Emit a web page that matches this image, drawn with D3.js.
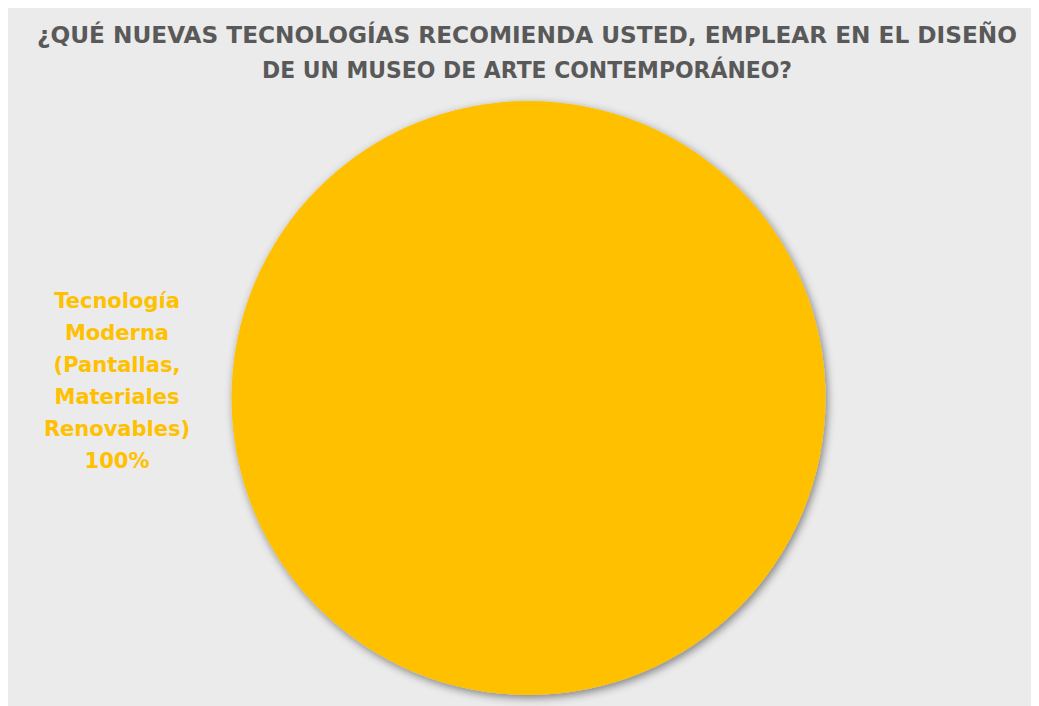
<!DOCTYPE html>
<html><head><meta charset="utf-8">
<script src="https://cdn.jsdelivr.net/npm/d3@7"></script>
<style>body{margin:0;background:#fff;} svg{display:block;}</style>
</head><body>
<script>
const titleLines = ["¿QUÉ NUEVAS TECNOLOGÍAS RECOMIENDA USTED, EMPLEAR EN EL DISEÑO", "DE UN MUSEO DE ARTE CONTEMPORÁNEO?"];
const categories = ["Tecnología Moderna (Pantallas, Materiales Renovables)"];
const values = [100];
const labelLines = [["Tecnología", "Moderna", "(Pantallas,", "Materiales", "Renovables)", "100%"]];
const colors = ["#FFC000"];

const W = 1039, H = 706;
const svg = d3.select("body").append("svg").attr("width", W).attr("height", H);
const defs = svg.append("defs");
const f = defs.append("filter").attr("id", "sh").attr("x", "-10%").attr("y", "-10%").attr("width", "120%").attr("height", "120%");
f.append("feDropShadow").attr("dx", 2).attr("dy", 3).attr("stdDeviation", 4).attr("flood-color", "#000").attr("flood-opacity", 0.45);

svg.append("rect").attr("x", 8).attr("y", 8).attr("width", W - 16).attr("height", H - 8).attr("fill", "#EBEBEB");

const font = "'DejaVu Sans', Verdana, sans-serif";
const titleLen = [980, 530];
svg.append("g").selectAll("text").data(titleLines).join("text")
  .attr("x", 527).attr("y", (d, i) => 43 + i * 35)
  .attr("text-anchor", "middle").attr("font-family", font).attr("font-weight", "bold")
  .attr("font-size", 23.5).attr("fill", "#595959")
  .attr("textLength", (d, i) => titleLen[i]).attr("lengthAdjust", "spacingAndGlyphs")
  .text(d => d);

const cx = 528.5, cy = 398, r = 297;
const pie = d3.pie().sort(null).value(d => d);
const arc = d3.arc().innerRadius(0).outerRadius(r);
const g = svg.append("g").attr("transform", `translate(${cx},${cy})`);
g.selectAll("path").data(pie(values)).join("path")
  .attr("d", arc).attr("fill", (d, i) => colors[i]).attr("filter", "url(#sh)");

const lab = svg.append("g");
labelLines.forEach((lines, k) => {
  lab.selectAll(null).data(lines).join("text")
    .attr("x", 117).attr("y", (d, i) => 308 + i * 32)
    .attr("text-anchor", "middle").attr("font-family", font).attr("font-weight", "bold")
    .attr("font-size", 21).attr("fill", colors[k]).text(d => d);
});
</script>
</body></html>
